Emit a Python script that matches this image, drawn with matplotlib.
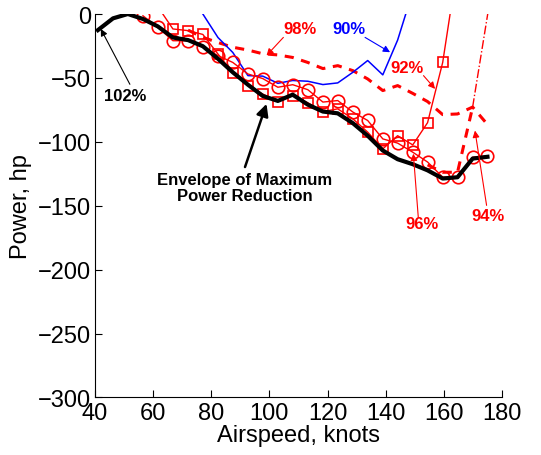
"""
Power reduction vs airspeed chart
"""

import matplotlib
matplotlib.use("Agg")
import matplotlib.pyplot as plt

plt.rcParams["font.family"] = ["Liberation Sans", "DejaVu Sans"]

# envelope of maximum power reduction
env_x = [41, 46.2, 51.3, 56.5, 61.6, 66.8, 72, 77.1, 82.3, 87.4, 92.6, 97.7, 102.9, 108,
         113.2, 118.4, 123.5, 128.7, 133.8, 139, 144.1, 149.3, 154.4, 159.6, 164.7, 169.9, 175]
env_y = [-12.6, -3.4, 0, -3.9, -9.7, -18.4, -20.4, -25.2, -35, -45.6, -55.3, -64.1, -68, -63.1,
         -70.9, -76.3, -77.7, -85.4, -95.2, -106.8, -113.6, -117.5, -122.3, -128.7, -127.7,
         -113.1, -111.7]

# 96% (circles)
c96_x = [56.5, 61.6, 66.8, 72, 77.1, 82.3, 87.4, 92.6, 97.7, 102.9, 108, 113.2,
         118.4, 123.5, 128.7, 133.8, 139, 144.1, 149.3, 154.4, 159.6, 164.7, 169.9, 175]
c96_y = [-1.4, -10.4, -20.9, -20.9, -26, -32.5, -37.9, -46.9, -50.5, -57.3, -55.3, -59.2,
         -68.9, -67.7, -76.7, -83.3, -97.7, -101, -108.1, -115.8, -127.6, -127.6, -112, -111.2]

# 92% (squares)
s92_x = [61.6, 66.8, 72, 77.1, 82.3, 87.4, 92.6, 97.7, 102.9, 108, 113.2, 118.4,
         123.5, 128.7, 133.8, 139, 144.1, 149.3, 154.4, 159.6, 164.7]
s92_y = [5.8, -11.7, -13, -16, -31.3, -46.1, -56, -62.6, -68.5, -63.8, -69.4, -76.3,
         -74.2, -82, -92.4, -105.5, -95.2, -102.4, -85, -37.9, 37.9]

# 90% (blue)
b90_x = [77.1, 82.3, 87.4, 92.6, 97.7, 102.9, 108, 113.2, 118.4, 123.5, 128.7, 133.8,
         139, 144.1, 149.3]
b90_y = [0, -18.4, -30.1, -48.2, -48.6, -54.2, -52, -52.6, -55.2, -53.9, -45.6, -36.4,
         -47.6, -20.4, 17.5]

# 98% (dashed)
d98_x = [72, 77.1, 82.3, 87.4, 92.6, 97.7, 102.9, 108, 113.2, 118.4, 123.5, 128.7,
         133.8, 139, 144.1, 149.3, 154.4, 159.6, 164.7, 169.9, 175]
d98_y = [-12.6, -18.3, -22.3, -26, -28.2, -31.1, -32, -34, -37.9, -42.7, -40.4, -44.3,
         -50.8, -59.9, -56, -62.1, -68.5, -78.7, -78.2, -72.8, -86.4]

# 94% (dashed bottom part, dash-dot top part)
d94_x = [154.4, 159.6, 164.7, 169.9]
d94_y = [-118, -123.8, -123.8, -72.8]
dd94_x = [169.9, 175.8]
dd94_y = [-72.8, 10]

red = (1, 0, 0)
blue = (0, 0, 1)

fig = plt.figure(figsize=(5.41, 4.56), dpi=100)
ax = fig.add_axes([0.1756, 0.1261, 0.7523, 0.841])

ax.plot(d98_x, d98_y, color=red, lw=2.2, ls=(0, (3, 2.5)))
ax.plot(d94_x, d94_y, color=red, lw=2.2, ls=(0, (3, 2.5)))
ax.plot(dd94_x, dd94_y, color=red, lw=1, ls="-.")
ax.plot(b90_x, b90_y, color=blue, lw=1.1)
ax.plot(s92_x, s92_y, color=red, lw=1, marker="s", ms=7, mfc="none", mew=1.2)
ax.plot(c96_x, c96_y, color=red, lw=1, marker="o", ms=9, mfc="none", mew=1.2)
ax.plot(env_x, env_y, color="black", lw=3)

ax.set_xlim(40, 180)
ax.set_ylim(-300, 0)
ax.set_xticks(range(40, 181, 20))
ax.set_yticks(range(-300, 1, 50))
ax.tick_params(direction="in", labelsize=17, length=5, width=0.8)
ax.tick_params(axis="x", pad=3)
ax.tick_params(axis="y", pad=3)
for side in ["top", "right"]:
    ax.spines[side].set_visible(False)
for side in ["left", "bottom"]:
    ax.spines[side].set_linewidth(0.8)
ax.set_xlabel("Airspeed, knots", fontsize=17, labelpad=0)
ax.set_ylabel("Power, hp", fontsize=17, labelpad=4)

# labels and their arrows (text, text pos, arrow start, arrow tip, colour, bold arrow)
labels = [
    ("102%", (50.5, -64), (52, -55), (42, -11.7), "black", False),
    ("Envelope of Maximum\nPower Reduction", (91.6, -136), (91.6, -119.7), (99, -70.3),
     "black", True),
    ("98%", (110.5, -11), (104.8, -18.3), (99, -32.5), red, False),
    ("90%", (127.2, -11), (132.9, -18.3), (141.5, -29.9), blue, False),
    ("92%", (147.2, -41.7), (153, -48.2), (157, -58.6), red, False),
    ("96%", (152.4, -164), (151.2, -158.9), (149.5, -109.3), red, False),
    ("94%", (175.3, -157.6), (174.7, -149.7), (170.7, -91.2), red, False),
]

for text, pos, start, tip, col, heavy in labels:
    ax.text(pos[0], pos[1], text, color=col, fontsize=12, weight="bold",
            ha="center", va="center", linespacing=1.1)
    if heavy:
        props = dict(arrowstyle="-|>", color=col, lw=1.8, mutation_scale=18,
                     shrinkA=0, shrinkB=0)
    else:
        props = dict(arrowstyle="-|>", color=col, lw=0.8, mutation_scale=10,
                     shrinkA=0, shrinkB=0)
    ax.annotate("", xy=tip, xytext=start, arrowprops=props)

fig.savefig("out.png", dpi=100)
